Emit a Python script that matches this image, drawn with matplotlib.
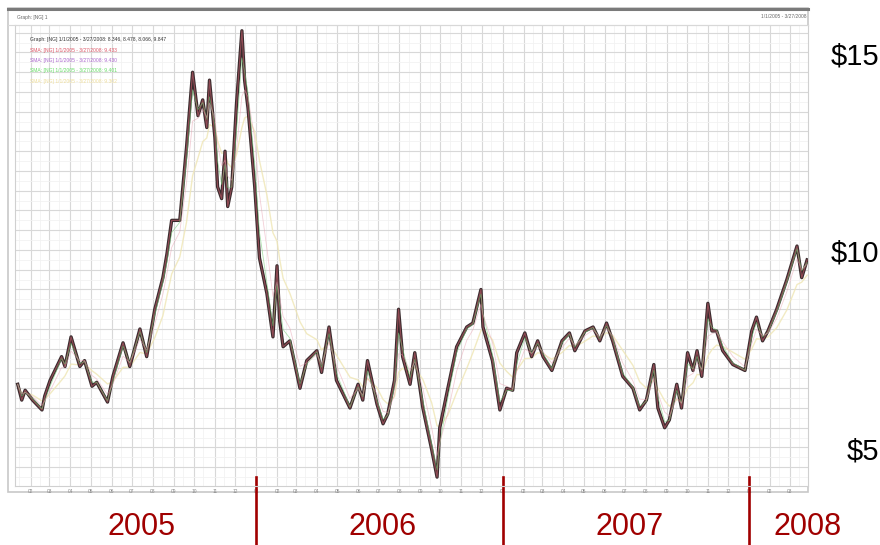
import matplotlib
matplotlib.use("Agg")
import matplotlib.pyplot as plt
import matplotlib.dates as mdates
import matplotlib.transforms as mtransforms
from matplotlib.patches import Rectangle
from matplotlib.lines import Line2D
import pandas as pd

# precio (cierre aproximado)
dates = [
    "2005-01-13", "2005-01-19", "2005-01-24", "2005-02-04", "2005-02-18", "2005-02-22",
    "2005-03-02", "2005-03-19", "2005-03-24", "2005-04-02", "2005-04-15", "2005-04-22",
    "2005-05-03", "2005-05-10", "2005-05-26", "2005-06-03", "2005-06-18", "2005-06-28",
    "2005-07-13", "2005-07-23", "2005-08-04", "2005-08-16", "2005-08-22", "2005-08-29",
    "2005-09-10", "2005-09-20", "2005-09-29", "2005-10-07", "2005-10-14", "2005-10-20",
    "2005-10-24", "2005-11-01", "2005-11-05", "2005-11-11", "2005-11-16", "2005-11-20",
    "2005-11-26", "2005-12-03", "2005-12-11", "2005-12-15", "2005-12-20", "2005-12-30",
    "2006-01-06", "2006-01-17", "2006-01-26", "2006-02-01", "2006-02-05", "2006-02-10",
    "2006-02-20", "2006-03-07", "2006-03-17", "2006-04-01", "2006-04-08", "2006-04-19",
    "2006-04-30", "2006-05-20", "2006-06-01", "2006-06-08", "2006-06-15", "2006-06-29",
    "2006-07-08", "2006-07-15", "2006-07-25", "2006-07-31", "2006-08-06", "2006-08-17",
    "2006-08-24", "2006-09-05", "2006-09-18", "2006-09-26", "2006-09-30", "2006-10-12",
    "2006-10-25", "2006-11-09", "2006-11-18", "2006-11-30", "2006-12-03", "2006-12-17",
    "2006-12-28", "2007-01-07", "2007-01-16", "2007-01-22", "2007-02-03", "2007-02-13",
    "2007-02-22", "2007-03-02", "2007-03-15", "2007-03-30", "2007-04-10", "2007-04-18",
    "2007-05-03", "2007-05-15", "2007-05-25", "2007-06-04", "2007-06-13", "2007-06-28",
    "2007-07-13", "2007-07-23", "2007-08-02", "2007-08-13", "2007-08-19", "2007-08-29",
    "2007-09-05", "2007-09-16", "2007-09-23", "2007-10-02", "2007-10-10", "2007-10-16",
    "2007-10-23", "2007-11-01", "2007-11-07", "2007-11-14", "2007-11-23", "2007-12-08",
    "2007-12-26", "2008-01-05", "2008-01-12", "2008-01-21", "2008-01-29", "2008-02-11",
    "2008-02-26", "2008-03-12", "2008-03-19", "2008-03-27",
]
prices = [
    6.6, 6.2, 6.45, 6.2, 5.95, 6.3,
    6.7, 7.3, 7.05, 7.8, 7.05, 7.2,
    6.55, 6.65, 6.15, 6.8, 7.65, 7.05,
    8.0, 7.3, 8.5, 9.3, 9.9, 10.75,
    10.75, 12.6, 14.5, 13.4, 13.8, 13.1,
    14.3, 12.85, 11.6, 11.3, 12.5, 11.1,
    11.6, 13.7, 15.55, 14.3, 13.6, 11.6,
    9.8, 8.9, 7.8, 9.6, 8.2, 7.55,
    7.7, 6.5, 7.2, 7.45, 6.9, 8.05,
    6.7, 6.0, 6.6, 6.2, 7.2, 6.1,
    5.6, 5.85, 6.7, 8.5, 7.3, 6.6,
    7.4, 6.0, 4.95, 4.25, 5.5, 6.5,
    7.55, 8.05, 8.15, 9.0, 8.05, 7.2,
    5.95, 6.5, 6.45, 7.4, 7.9, 7.3,
    7.7, 7.3, 6.95, 7.7, 7.9, 7.45,
    7.95, 8.05, 7.7, 8.15, 7.7, 6.8,
    6.5, 5.95, 6.2, 7.1, 6.0, 5.5,
    5.7, 6.6, 6.0, 7.4, 6.95, 7.45,
    6.8, 8.65, 7.95, 7.95, 7.45, 7.1,
    6.95, 7.95, 8.3, 7.7, 7.95, 8.5,
    9.25, 10.1, 9.3, 9.75,
]

years = ["2005", "2006", "2007", "2008"]
year_label_dates = ["2005-07-15", "2006-07-08", "2007-07-08", "2008-03-28"]
year_breaks = ["2006-01-01", "2007-01-01", "2008-01-01"]
price_labels = [15, 10, 5]

legend_lines = [
    ("Graph: [NG] 1/1/2005 - 3/27/2008: 8.346, 8.478, 8.066, 9.847", "#333333"),
    ("SMA: [NG] 1/1/2005 - 3/27/2008: 9.433", "#dd5566"),
    ("SMA: [NG] 1/1/2005 - 3/27/2008: 9.430", "#aa66cc"),
    ("SMA: [NG] 1/1/2005 - 3/27/2008: 9.401", "#66dd66"),
    ("SMA: [NG] 1/1/2005 - 3/27/2008: 9.302", "#eedd99"),
]

W, H = 880, 545


def fx(px):
    return px / W


def fy(py):
    return 1 - py / H


s = pd.Series(prices, index=pd.to_datetime(dates))
t = s.index
ma_fast = s.ewm(halflife="4D", times=t).mean()
ma_mid = s.ewm(halflife="8D", times=t).mean()
ma_slow = s.ewm(halflife="18D", times=t).mean()

plt.rcParams["font.family"] = ["Liberation Sans", "DejaVu Sans"]
fig = plt.figure(figsize=(W / 100, H / 100), dpi=100)

# marco del gráfico interno
fig.add_artist(Rectangle((fx(8), fy(492)), fx(800), 484 / H, transform=fig.transFigure,
                         facecolor="white", edgecolor="#c8c8c8", lw=1.2, zorder=0))
fig.add_artist(Line2D([fx(8), fx(808)], [fy(8.5), fy(8.5)], transform=fig.transFigure,
                      color="#7a7a7a", lw=2.2))
fig.add_artist(Line2D([fx(8), fx(808)], [fy(25), fy(25)], transform=fig.transFigure,
                      color="#d8d8d8", lw=0.8))
fig.text(fx(17), fy(17), "Graph: [NG] 1", fontsize=3.5, color="#666666", va="center")
fig.text(fx(806), fy(17), "1/1/2005 - 3/27/2008", fontsize=3.5, color="#666666",
         va="center", ha="right")

ax = fig.add_axes([fx(15), fy(486), fx(793), 461 / H])
ax.set_xlim(pd.Timestamp("2005-01-09"), pd.Timestamp("2008-03-28 07:00"))
ax.set_ylim(4.025, 15.696)

ax.xaxis.set_major_locator(mdates.MonthLocator())
ax.xaxis.set_major_formatter(mdates.DateFormatter("%m"))
ax.yaxis.set_major_locator(plt.MultipleLocator(0.5))
ax.yaxis.set_minor_locator(plt.MultipleLocator(0.25))
ax.xaxis.set_minor_locator(mdates.DayLocator(bymonthday=15))
ax.grid(which="major", color="#d8d8d8", lw=0.8)
ax.grid(which="minor", color="#f2f2f2", lw=0.6)
ax.set_axisbelow(True)
ax.tick_params(axis="x", which="major", length=0, labelsize=3.5, labelcolor="#888888", pad=2)
ax.tick_params(axis="y", which="both", length=0, labelleft=False)
ax.tick_params(axis="x", which="minor", length=0)
for sp in ax.spines.values():
    sp.set_color("#d0d0d0")
    sp.set_linewidth(0.8)

# series: medias móviles y precio
ax.plot(t, ma_slow, color="#efe6b4", lw=1.0, alpha=0.8, zorder=2)
ax.plot(t, s, color="#3a2c2e", lw=2.4, zorder=3)
ax.plot(t, s, color="#d86474", lw=0.8, alpha=0.55, zorder=4)
ax.plot(t, ma_fast, color="#7acc7a", lw=0.6, alpha=0.6, zorder=4)
ax.plot(t, ma_mid, color="#e8a0b0", lw=0.6, alpha=0.5, zorder=4)

for i, (txt, col) in enumerate(legend_lines):
    fig.text(fx(30), fy(40 + 10.3 * i), txt, fontsize=3.6, color=col, va="center")

# etiquetas de precio a la derecha
ytrans = mtransforms.blended_transform_factory(fig.transFigure, ax.transData)
for p in price_labels:
    ax.text(fx(879), p - 0.1, f"${p}", transform=ytrans, ha="right", va="center",
            fontsize=21, color="black", clip_on=False)

# separadores y etiquetas de año
xtrans = mtransforms.blended_transform_factory(ax.transData, fig.transFigure)
for d in year_breaks:
    ax.add_artist(Line2D([pd.Timestamp(d)] * 2, [fy(477), fy(544)], transform=xtrans,
                         color="#a00000", lw=1.9, clip_on=False))
for yr, d in zip(years, year_label_dates):
    ax.text(pd.Timestamp(d), fy(527), yr, transform=xtrans, ha="center", va="center",
            fontsize=22, color="#a00000", clip_on=False)

fig.savefig("out.png", dpi=100)
